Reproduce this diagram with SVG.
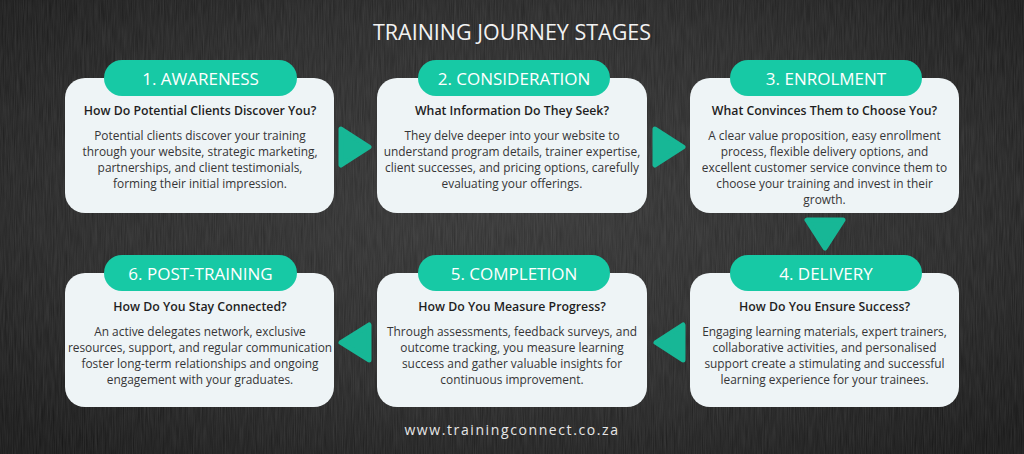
<svg xmlns="http://www.w3.org/2000/svg" width="1024" height="454" viewBox="0 0 1024 454">
<defs>
<radialGradient id="bg" cx="50%" cy="45%" r="70%">
<stop offset="0" stop-color="#333333"/>
<stop offset="0.6" stop-color="#262626"/>
<stop offset="1" stop-color="#151515"/>
</radialGradient>
<filter id="grain" x="0" y="0" width="100%" height="100%">
<feTurbulence type="fractalNoise" baseFrequency="0.9 0.04" numOctaves="2" seed="3"/>
<feColorMatrix type="matrix" values="0 0 0 0 1  0 0 0 0 1  0 0 0 0 1  0 0 0 0.12 0"/>
</filter>
<style>
.box{fill:#eef4f6;}
.pill{fill:#17c9a5;}
.arr{fill:#17b796;stroke:#17b796;stroke-width:5;stroke-linejoin:round;}
.pt{font-family:"Open Sans","Liberation Sans",sans-serif;font-size:17px;fill:#ffffff;text-anchor:middle;}
.hd{font-family:"Open Sans","Liberation Sans",sans-serif;font-size:12.3px;font-weight:600;fill:#1e1e1e;text-anchor:middle;}
.bd{font-family:"Open Sans","Liberation Sans",sans-serif;font-size:11.9px;fill:#363636;text-anchor:middle;}
.title{font-family:"Open Sans","Liberation Sans",sans-serif;font-size:21.5px;font-weight:500;fill:#f2f2f2;text-anchor:middle;}
.foot{font-family:"Open Sans","Liberation Sans",sans-serif;font-size:14px;fill:#e6e6e6;text-anchor:middle;letter-spacing:1.6px;}
</style>
</defs>
<rect width="1024" height="454" fill="url(#bg)"/>
<rect width="1024" height="454" filter="url(#grain)"/>
<text class="title" x="512" y="40">TRAINING JOURNEY STAGES</text>

<g id="connectors">
<polygon class="arr" points="341,129 369,147 341,165"/>
<polygon class="arr" points="655,129 683,147 655,165"/>
<polygon class="arr" points="807,220 843,220 825,248"/>
<polygon class="arr" points="683,325 683,360 656,342.5"/>
<polygon class="arr" points="369,325 369,360 341,342.5"/>
</g>

<g id="stage1">
<rect class="box" x="65" y="78" width="269" height="135" rx="20"/>
<rect class="pill" x="104" y="60" width="193" height="36" rx="18"/>
<text class="pt" x="200.5" y="84.5">1. AWARENESS</text>
<text class="hd" x="200" y="115">How Do Potential Clients Discover You?</text>
<text class="bd" x="200" y="140">Potential clients discover your training</text>
<text class="bd" x="200" y="156">through your website, strategic marketing,</text>
<text class="bd" x="200" y="172">partnerships, and client testimonials,</text>
<text class="bd" x="200" y="188">forming their initial impression.</text>
</g>

<g id="stage2">
<rect class="box" x="377" y="78" width="270" height="135" rx="20"/>
<rect class="pill" x="418" y="60" width="192" height="36" rx="18"/>
<text class="pt" x="514" y="84.5">2. CONSIDERATION</text>
<text class="hd" x="512" y="115">What Information Do They Seek?</text>
<text class="bd" x="512" y="140">They delve deeper into your website to</text>
<text class="bd" x="512" y="156">understand program details, trainer expertise,</text>
<text class="bd" x="512" y="172">client successes, and pricing options, carefully</text>
<text class="bd" x="512" y="188">evaluating your offerings.</text>
</g>

<g id="stage3">
<rect class="box" x="690" y="78" width="269" height="135" rx="20"/>
<rect class="pill" x="730" y="60" width="192" height="36" rx="18"/>
<text class="pt" x="826" y="84.5">3. ENROLMENT</text>
<text class="hd" x="824.5" y="115">What Convinces Them to Choose You?</text>
<text class="bd" x="824.5" y="140">A clear value proposition, easy enrollment</text>
<text class="bd" x="824.5" y="156">process, flexible delivery options, and</text>
<text class="bd" x="824.5" y="172">excellent customer service convince them to</text>
<text class="bd" x="824.5" y="188">choose your training and invest in their</text>
<text class="bd" x="824.5" y="204">growth.</text>
</g>

<g id="stage4">
<rect class="box" x="690" y="273" width="269" height="134" rx="20"/>
<rect class="pill" x="730" y="255" width="192" height="36" rx="18"/>
<text class="pt" x="826" y="279.5">4. DELIVERY</text>
<text class="hd" x="824.5" y="311">How Do You Ensure Success?</text>
<text class="bd" x="824.5" y="336">Engaging learning materials, expert trainers,</text>
<text class="bd" x="824.5" y="352">collaborative activities, and personalised</text>
<text class="bd" x="824.5" y="368">support create a stimulating and successful</text>
<text class="bd" x="824.5" y="384">learning experience for your trainees.</text>
</g>

<g id="stage5">
<rect class="box" x="377" y="273" width="270" height="134" rx="20"/>
<rect class="pill" x="418" y="255" width="192" height="36" rx="18"/>
<text class="pt" x="514" y="279.5">5. COMPLETION</text>
<text class="hd" x="512" y="311">How Do You Measure Progress?</text>
<text class="bd" x="512" y="336">Through assessments, feedback surveys, and</text>
<text class="bd" x="512" y="352">outcome tracking, you measure learning</text>
<text class="bd" x="512" y="368">success and gather valuable insights for</text>
<text class="bd" x="512" y="384">continuous improvement.</text>
</g>

<g id="stage6">
<rect class="box" x="65" y="273" width="269" height="134" rx="20"/>
<rect class="pill" x="104" y="255" width="193" height="36" rx="18"/>
<text class="pt" x="200.5" y="279.5">6. POST-TRAINING</text>
<text class="hd" x="200" y="311">How Do You Stay Connected?</text>
<text class="bd" x="200" y="336">An active delegates network, exclusive</text>
<text class="bd" x="200" y="352">resources, support, and regular communication</text>
<text class="bd" x="200" y="368">foster long-term relationships and ongoing</text>
<text class="bd" x="200" y="384">engagement with your graduates.</text>
</g>

<text class="foot" x="512" y="435">www.trainingconnect.co.za</text>
</svg>
